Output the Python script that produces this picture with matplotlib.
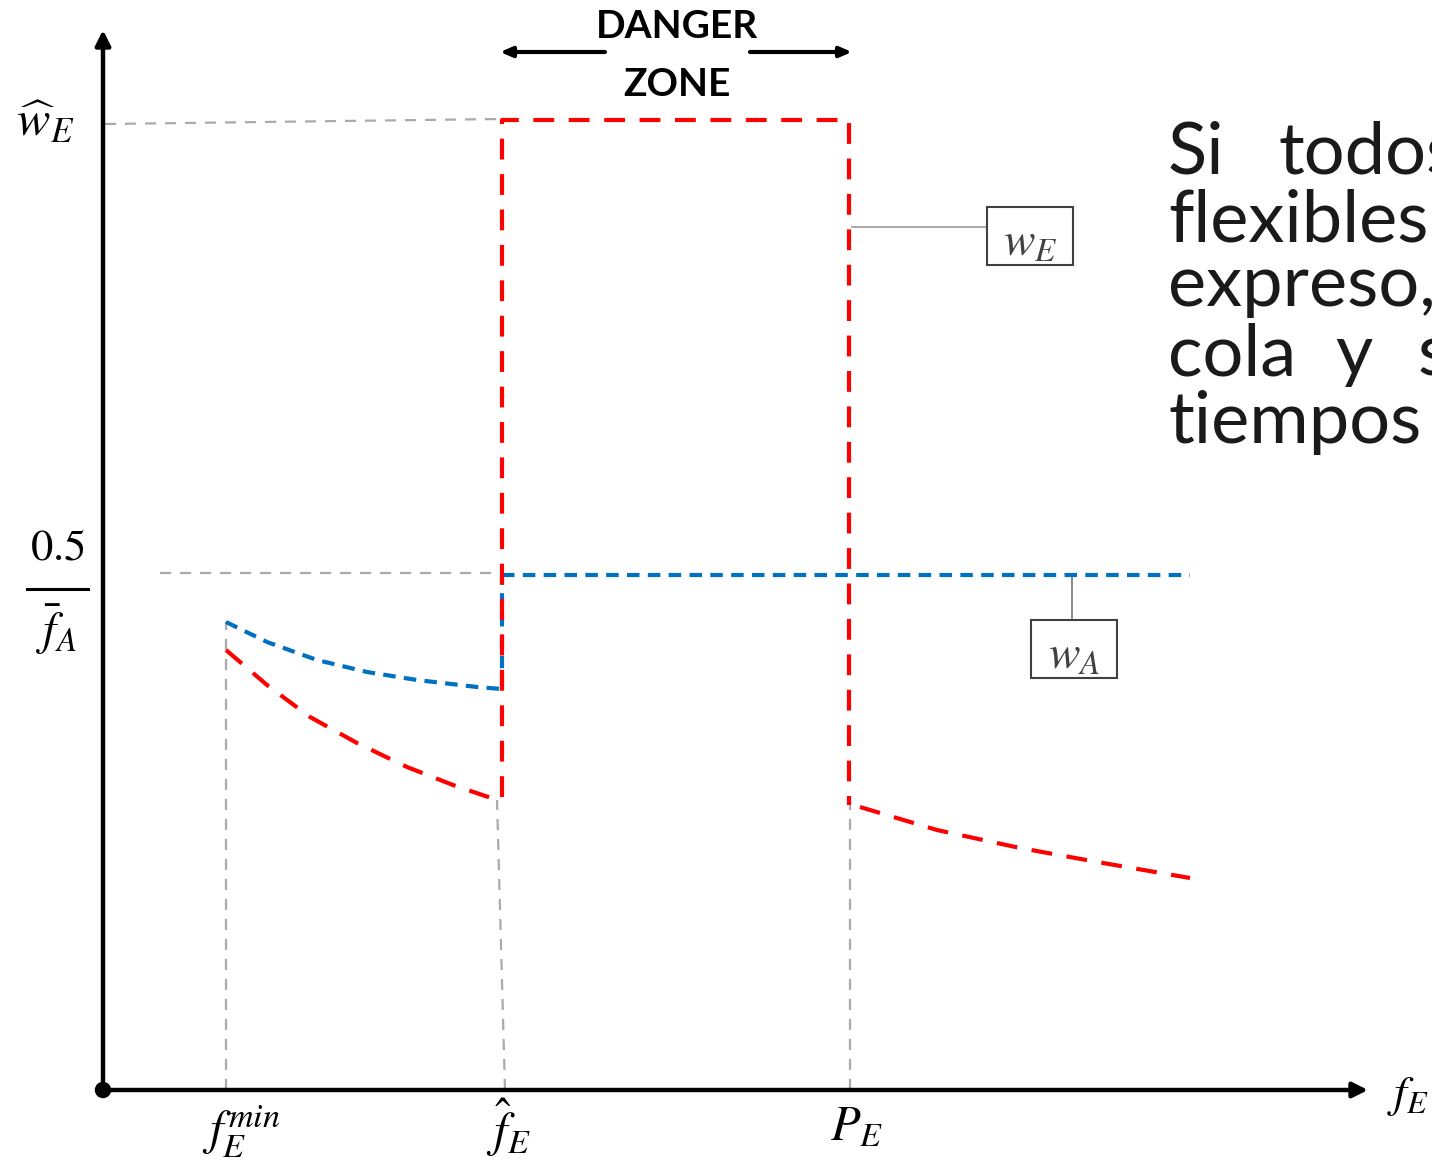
import matplotlib
matplotlib.use("Agg")
import matplotlib.pyplot as plt
from matplotlib.patches import Rectangle, Circle

plt.rcParams['mathtext.fontset'] = 'stix'

# ---- data (schematic units) ----
f_min, f_hat, P_E, f_end = 1.23, 3.99, 7.46, 10.87
w_hat, half_fA = 9.70, 5.15

blue_x = [1.23, 1.64, 2.14, 2.64, 3.14, 3.74, 3.99]
blue_y = [4.68, 4.48, 4.30, 4.18, 4.10, 4.03, 4.01]

red_left_x = [1.23, 1.64, 2.07, 2.54, 3.04, 3.50, 3.94]
red_left_y = [4.40, 4.05, 3.73, 3.47, 3.23, 3.05, 2.90]

red_box_x = [f_hat, f_hat, P_E, P_E]
red_box_y = [2.93, w_hat, w_hat, 2.85]

red_right_x = [7.57, 8.34, 9.17, 10.00, 10.87]
red_right_y = [2.83, 2.60, 2.42, 2.27, 2.12]

x_tick_pos = [f_min, f_hat, P_E]
x_tick_lbl = [r'$f_E^{min}$', r'$\hat{f}_E$', r'$P_E$']

para_lines = [[("Si", 10.65), ("todos", 11.75)],
              [("flexibles", 10.65)],
              [("expreso,", 10.65)],
              [("cola", 10.65), ("y", 12.32), ("se", 13.15)],
              [("tiempos", 10.65)]]
para_base = [9.17, 8.49, 7.84, 7.15, 6.47]

RED = '#FF0000'
BLUE = '#0070C0'
GRAY = '#AAAAAA'

fig = plt.figure(figsize=(14.32, 11.6), dpi=100)
ax = fig.add_axes([0, 0, 1, 1])
ax.set_xlim(-1.03, 13.29)
ax.set_ylim(-0.70, 10.90)
ax.axis('off')

# gray guides
gkw = dict(color=GRAY, lw=1.6, dashes=(5, 4), zorder=1)
ax.plot([0.02, 3.97], [9.66, 9.71], **gkw)
ax.plot([0.57, 3.97], [5.17, 5.17], **gkw)
ax.plot([f_min, f_min], [0, blue_y[0]], **gkw)
ax.plot([4.02, red_left_x[-1]], [0, red_left_y[-1]], **gkw)
ax.plot([P_E + 0.01, P_E + 0.01], [0, red_box_y[-1]], **gkw)

# blue series
bkw = dict(color=BLUE, lw=3, dashes=(3, 2), zorder=3)
ax.plot(blue_x, blue_y, **bkw)
ax.plot([f_hat, f_hat], [blue_y[-1], half_fA], **bkw)
ax.plot([f_hat, f_end], [half_fA, half_fA], **bkw)

# red series
rkw = dict(color=RED, lw=3, dashes=(5, 3.5), zorder=4)
ax.plot(red_left_x, red_left_y, **rkw)
ax.plot(red_box_x, red_box_y, **rkw)
ax.plot(red_right_x, red_right_y, **rkw)

# axes
akw = dict(arrowstyle='-|>,head_length=0.9,head_width=0.45', color='black', lw=3.2,
           shrinkA=0, shrinkB=0)
ax.annotate('', xy=(12.65, 0), xytext=(0, 0), arrowprops=akw, zorder=5)
ax.annotate('', xy=(0, 10.60), xytext=(0, 0), arrowprops=akw, zorder=5)
ax.add_patch(Circle((0, 0), 0.075, color='black', zorder=6))

# tick labels
for xp, lb, dx, yt in zip(x_tick_pos, x_tick_lbl, [0.15, 0.07, 0.08], [-0.12, -0.06, -0.12]):
    ax.text(xp + dx, yt, lb, fontsize=35, ha='center', va='top')
ax.text(12.84, -0.05, r'$f_E$', fontsize=33, ha='left', va='center')
ax.text(-0.58, 9.68, r'$\widehat{w}_E$', fontsize=36, ha='center', va='center')
# 0.5 / f_A fraction
ax.text(-0.46, 5.30, r'$0.5$', fontsize=32, ha='center', va='baseline')
ax.plot([-0.76, -0.15], [5.01, 5.01], color='black', lw=2.2)
ax.text(-0.46, 4.45, r'$\bar{f}_A$', fontsize=34, ha='center', va='baseline')

# danger zone
ax.text(5.74, 10.64, 'DANGER', fontsize=28, fontweight='bold', family='Lato',
        ha='center', va='center')
ax.text(5.74, 10.05, 'ZONE', fontsize=28, fontweight='bold', family='Lato',
        ha='center', va='center')
dkw = dict(arrowstyle='-|>,head_length=0.7,head_width=0.3', color='black', lw=3,
           shrinkA=0, shrinkB=0)
ax.annotate('', xy=(3.97, 10.38), xytext=(5.02, 10.38), arrowprops=dkw)
ax.annotate('', xy=(7.49, 10.38), xytext=(6.47, 10.38), arrowprops=dkw)

# series labels
ax.plot([7.49, 8.84], [8.63, 8.63], color='#A0A0A0', lw=1.3, zorder=2)
ax.add_patch(Rectangle((8.84, 8.25), 0.86, 0.58, fill=False, ec='#404040', lw=1.5, zorder=5))
ax.text(9.27, 8.47, r'$w_E$', fontsize=34, color='#404040', ha='center', va='center')
ax.plot([9.69, 9.69], [half_fA, 4.70], color='#808080', lw=1.3, zorder=2)
ax.add_patch(Rectangle((9.28, 4.12), 0.86, 0.58, fill=False, ec='#404040', lw=1.5, zorder=5))
ax.text(9.71, 4.34, r'$w_A$', fontsize=34, color='#404040', ha='center', va='center')

# paragraph (clipped at figure edge, as in the reference)
for words, yb in zip(para_lines, para_base):
    for w, xw in words:
        ax.text(xw, yb, w, fontsize=52, family='Lato', color='#1a1a1a',
                ha='left', va='baseline')

fig.savefig('out.png', dpi=100)
